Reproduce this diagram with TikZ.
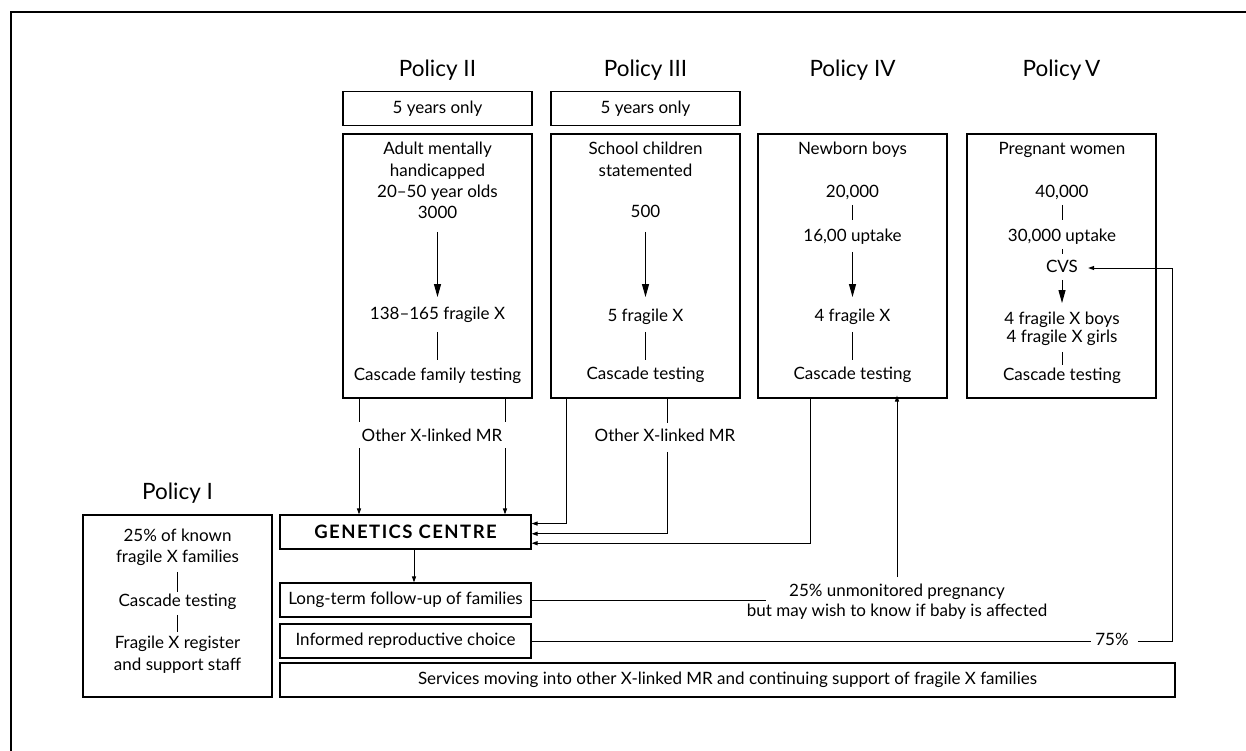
\documentclass[tikz,border=0pt]{standalone}
\usepackage{fontspec}
\setmainfont{Lato}
\usetikzlibrary{arrows.meta,calc}
\newcommand{\fs}{\fontsize{17}{20}\selectfont}
\newcommand{\ft}{\fontsize{22.5}{26}\selectfont}
\newcommand{\fb}{\fontsize{18.5}{20}\selectfont\bfseries\addfontfeature{LetterSpace=8}}
\begin{document}
\begin{tikzpicture}[x=1pt,y=-1pt,
  box/.style={draw,line width=1.1pt,inner sep=0pt},
  txt/.style={inner sep=0pt,text height=12pt,text depth=3.5pt,font=\fs},
  ttl/.style={inner sep=0pt,font=\ft},
  ln/.style={line width=1pt},
  lk/.style 2 args={ln,shorten <=#1,shorten >=#2},
  big/.style={-{Triangle[length=13pt,width=7pt]}},
  sm/.style={-{Triangle[length=6pt,width=4pt]}},
]
\useasboundingbox (0,0) rectangle (1246,751);
\draw[line width=2pt] (11,751) -- (11,12) -- (1246,12);

% titles
\node[ttl] (p2) at (437.5,70) {Policy II};
\node[ttl] (p3) at (645.5,70) {Policy III};
\node[ttl] (p4) at (852.5,70) {Policy IV};
\node[ttl] (p5) at (1061.5,70) {Policy\,V};
\node[ttl] (p1) at (177.5,493) {Policy I};

% 5 years boxes
\node[box,minimum width=189pt,minimum height=34pt,font=\fs] (y2) at (437.5,108.5) {5 years only};
\node[box,minimum width=189pt,minimum height=34pt,font=\fs] (y3) at (645.5,108.5) {5 years only};

% main boxes
\node[box,minimum width=189pt,minimum height=264pt] (b2) at (437.5,266) {};
\node[box,minimum width=189pt,minimum height=264pt] (b3) at (645.5,266) {};
\node[box,minimum width=189pt,minimum height=264pt] (b4) at (852.5,266) {};
\node[box,minimum width=189pt,minimum height=264pt] (b5) at (1061.5,266) {};

% Policy II contents
\node[txt] (a1) at (437.5,150) {Adult mentally};
\node[txt] (a2) at (437.5,172) {handicapped};
\node[txt] (a3) at (437.5,193) {20–50 year olds};
\node[txt] (a4) at (437.5,214) {3000};
\node[txt] (a5) at (437.5,315) {138–165 fragile X};
\node[txt] (a6) at (437.5,376) {Cascade family testing};
\draw[lk={10pt}{10pt},big] (a4) -- (a5);
\draw[lk={9pt}{8pt}] (a5) -- (a6);

% Policy III contents
\node[txt] (s1) at (645.5,150) {School children};
\node[txt] (s2) at (645.5,172) {statemented};
\node[txt] (s3) at (645.5,213) {500};
\node[txt] (s4) at (645.5,317) {5 fragile X};
\node[txt] (s5) at (645.5,375) {Cascade testing};
\draw[lk={11pt}{12pt},big] (s3) -- (s4);
\draw[lk={7pt}{7pt}] (s4) -- (s5);

% Policy IV contents
\node[txt] (n1) at (852.5,150) {Newborn boys};
\node[txt] (n2) at (852.5,193) {20,000};
\node[txt] (n3) at (852.5,237) {16,00 uptake};
\node[txt] (n4) at (852.5,317) {4 fragile X};
\node[txt] (n5) at (852.5,375) {Cascade testing};
\draw[lk={4pt}{9pt}] (n2) -- (n3);
\draw[lk={7pt}{12pt},big] (n3) -- (n4);
\draw[lk={7pt}{7pt}] (n4) -- (n5);

% Policy V contents
\node[txt] (v1) at (1062,150) {Pregnant women};
\node[txt] (v2) at (1062,193) {40,000};
\node[txt] (v3) at (1062,237) {30,000 uptake};
\node[txt] (v4) at (1062,268) {CVS};
\node[txt] (v5) at (1062,320) {4 fragile X boys};
\node[txt] (v6) at (1062,338) {4 fragile X girls};
\node[txt] (v7) at (1062,376) {Cascade testing};
\draw[lk={4pt}{9pt}] (v2) -- (v3);
\draw[lk={4pt}{6pt}] (v3) -- (v4);
\draw[lk={4pt}{9pt},big] (v4) -- (v5);
\draw[lk={6pt}{3pt}] (v6) -- (v7);

% lower boxes
\node[box,minimum width=251pt,minimum height=34pt,font=\fb] (gc) at (405.5,532) {GENETICS CENTRE};
\node[box,minimum width=251pt,minimum height=34pt,font=\fs] (lt) at (405.5,600) {Long-term follow-up of families};
\node[box,minimum width=251pt,minimum height=34pt,font=\fs] (irc) at (405.5,641) {Informed reproductive choice};
\node[box,minimum width=895pt,minimum height=34pt,font=\fs] (sv) at (727.5,680) {Services moving into other X-linked MR and continuing support of fragile X families};

% Policy I
\node[box,minimum width=189pt,minimum height=182pt] (pb) at (177.5,606) {};
\node[txt] (i1) at (177.5,537) {25\% of known};
\node[txt] (i2) at (177.5,558) {fragile X families};
\node[txt] (i3) at (177.5,602) {Cascade testing};
\node[txt] (i4) at (177.5,644) {Fragile X register};
\node[txt] (i5) at (177.5,666) {and support staff};
\draw[lk={6pt}{2pt}] (i2) -- (i3);
\draw[lk={5pt}{4pt}] (i3) -- (i4);

% other X-linked labels
\node[txt] (ox1) at (432,437) {Other X-linked MR};
\node[txt] (ox2) at (665,437) {Other X-linked MR};

% drop coordinates
\coordinate (xL2) at (359,0);
\coordinate (xR2) at (505,0);
\coordinate (x3a) at (566,0);
\coordinate (x3b) at (667,0);
\coordinate (x4a) at (810,0);
\coordinate (x4b) at (897,0);
\coordinate (x5) at (1172,0);
\coordinate (g1) at ($(gc.north east)!0.26!(gc.south east)$);
\coordinate (g2) at ($(gc.north east)!0.55!(gc.south east)$);
\coordinate (g3) at ($(gc.north east)!0.82!(gc.south east)$);

\draw[lk={0pt}{7pt}] (b2.south -| xL2) -- (ox1.north -| xL2);
\draw[lk={3.5pt}{0pt},sm] (ox1.south -| xL2) -- (gc.north -| xL2);
\draw[lk={0pt}{7pt}] (b2.south -| xR2) -- (ox1.north -| xR2);
\draw[lk={3.5pt}{0pt},sm] (ox1.south -| xR2) -- (gc.north -| xR2);

\draw[ln,sm] (b3.south -| x3a) |- (g1);
\draw[lk={0pt}{6pt}] (b3.south -| x3b) -- (ox2.north -| x3b);
\draw[lk={7pt}{0pt},sm] (ox2.south -| x3b) |- (g2);
\draw[ln,sm] (b4.south -| x4a) |- (g3);

\draw[ln,sm] ([xshift=8.5pt]gc.south) -- ([xshift=8.5pt]lt.north);

% unmonitored pregnancy
\node[txt] (u1) at (897,592) {25\% unmonitored pregnancy};
\node[txt] (u2) at (897,612) {but may wish to know if baby is affected};
\coordinate (ua) at (897,577);
\coordinate (ltend) at (766,600);
\draw[ln] (lt.east) -- (ltend);
\draw[lk={0pt}{-3pt},sm] (ua) -- (b4.south -| ua);

% 75%
\node[txt] (p75) at (1112,641) {75\%};
\draw[lk={0pt}{4pt}] (irc.east) -- (p75.west);
\draw[lk={9pt}{0pt},sm] (p75.east) -| (x5 |- v4.east) -- ([xshift=10pt]v4.east);
\end{tikzpicture}
\end{document}
